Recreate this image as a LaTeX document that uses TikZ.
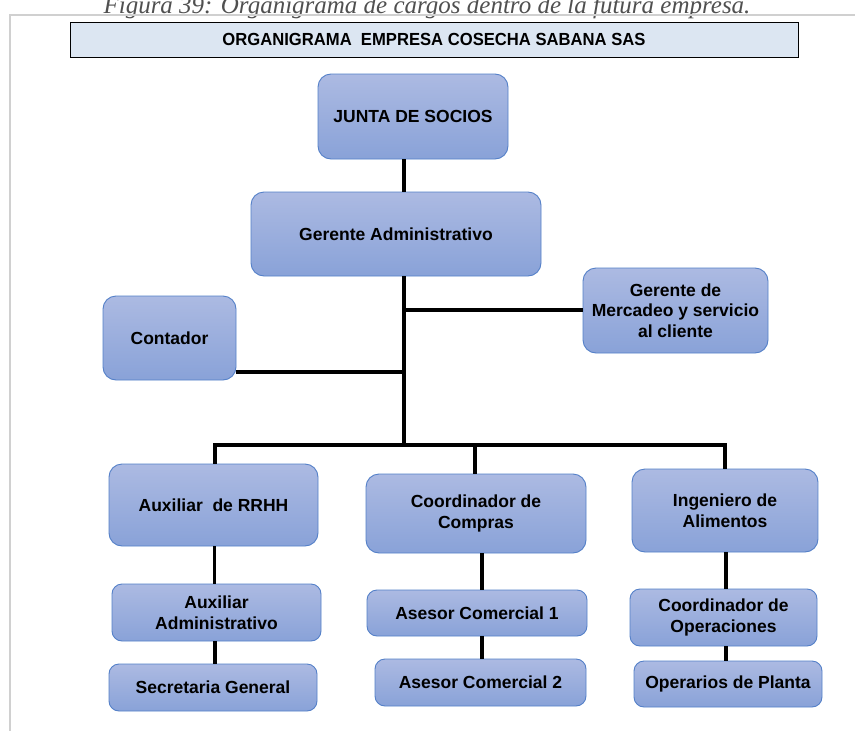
\documentclass[tikz,border=0pt]{standalone}
\usepackage{fontspec}
\setmainfont{Liberation Sans}
\newfontfamily\capfont{Liberation Serif}
\newfontfamily\narrowfont[FakeStretch=0.95]{Liberation Sans}
\usetikzlibrary{calc}

\definecolor{boxtop}{RGB}{172,186,226}
\definecolor{boxbot}{RGB}{137,162,216}
\definecolor{boxline}{RGB}{84,128,200}
\definecolor{titlefill}{RGB}{220,230,242}
\definecolor{framegray}{RGB}{208,208,208}
\definecolor{capgray}{RGB}{80,80,80}

\tikzset{
  unitbox/.style={rectangle, rounded corners=13pt, draw=boxline, line width=0.9pt,
    top color=boxtop, bottom color=boxbot, inner sep=0pt, align=center,
    font=\fontsize{17.5}{20.5}\selectfont\bfseries, text=black},
  smallbox/.style={unitbox, rounded corners=10pt},
  conn/.style={line width=3.6pt, black, line join=miter},
}

\begin{document}
\begin{tikzpicture}[x=1pt, y=-1pt]
  \useasboundingbox (0,0) rectangle (855,731);
  \clip (0,0) rectangle (855,731);
  \fill[white] (0,0) rectangle (855,731);

  % caption above the frame
  \node[anchor=base, font=\capfont\itshape\fontsize{25}{30}\selectfont, text=capgray]
    (caption) at (427,13) {Figura 39: Organigrama de cargos dentro de la futura empresa.};

  % page frame
  \draw[framegray, line width=1.6pt] (10,731) -- (10,15) -- (855,15);

  % title bar
  \node[rectangle, draw=black, line width=0.9pt, fill=titlefill,
        minimum width=728pt, minimum height=35pt, inner sep=0pt,
        font=\narrowfont\bfseries\fontsize{17.5}{20}\selectfont]
    (title) at (434,39.5) {ORGANIGRAMA\ \ EMPRESA COSECHA SABANA SAS};

  % positions
  \node[unitbox, minimum width=190pt, minimum height=85pt] (junta) at (413,116.5) {JUNTA DE SOCIOS};
  \node[unitbox, minimum width=290pt, minimum height=84pt] (gerente) at (396,234) {Gerente Administrativo};
  \node[unitbox, minimum width=185pt, minimum height=85pt] (mercadeo) at (675.5,310.5) {Gerente de\\Mercadeo y servicio\\al cliente};
  \node[unitbox, minimum width=133pt, minimum height=84pt] (contador) at (169.5,338) {Contador};

  \node[unitbox, minimum width=209pt, minimum height=82pt] (rrhh) at (213.5,505) {Auxiliar\ \ de RRHH};
  \node[unitbox, minimum width=220pt, minimum height=79pt] (compras) at (476,513.5) {Coordinador de\\Compras};
  \node[unitbox, minimum width=186pt, minimum height=83pt] (ingeniero) at (725,510.5) {Ingeniero de\\Alimentos};

  \node[smallbox, minimum width=209pt, minimum height=57pt] (auxadm) at (216.5,612.5) {Auxiliar\\Administrativo};
  \node[smallbox, minimum width=208pt, minimum height=47pt] (secretaria) at (213,687.5) {Secretaria General};
  \node[smallbox, minimum width=220pt, minimum height=46pt] (asesor1) at (477,613) {Asesor Comercial 1};
  \node[smallbox, minimum width=211pt, minimum height=47pt] (asesor2) at (480.5,682.5) {Asesor Comercial 2};
  \node[smallbox, minimum width=187pt, minimum height=57pt] (coordop) at (723.5,617.5) {Coordinador de\\Operaciones};
  \node[smallbox, minimum width=188pt, minimum height=46pt] (operarios) at (728,684) {Operarios de Planta};

  % reference points for the connectors
  \coordinate (spine) at (404,0);
  \coordinate (bus) at (404,445);
  \coordinate (mktjoin) at (404,310);
  \coordinate (accjoin) at (404,372);

  % connectors
  \draw[conn] (junta.south -| spine) -- (gerente.north -| spine);
  \draw[conn] (gerente.south -| spine) -- (bus);
  \draw[conn] (mktjoin) -- (mercadeo.west |- mktjoin);
  \draw[conn] (accjoin) -- (contador.east |- accjoin);
  \draw[conn] ([xshift=1.5pt]rrhh.north) -- ([xshift=1.5pt]rrhh.north |- bus)
              -- (ingeniero.north |- bus) -- (ingeniero.north);
  \draw[conn] ([xshift=-1pt]compras.north |- bus) -- ([xshift=-1pt]compras.north);

  \draw[conn] ([xshift=1pt]rrhh.south) -- ([xshift=1pt]rrhh.south |- auxadm.north);
  \draw[conn] ([xshift=-1.5pt]auxadm.south) -- ([xshift=-1.5pt]auxadm.south |- secretaria.north);
  \draw[conn] ([xshift=6pt]compras.south) -- ([xshift=6pt]compras.south |- asesor1.north);
  \draw[conn] ([xshift=5pt]asesor1.south) -- ([xshift=5pt]asesor1.south |- asesor2.north);
  \draw[conn] ([xshift=1pt]ingeniero.south) -- ([xshift=1pt]ingeniero.south |- coordop.north);
  \draw[conn] ([xshift=2.5pt]coordop.south) -- ([xshift=2.5pt]coordop.south |- operarios.north);
\end{tikzpicture}
\end{document}
